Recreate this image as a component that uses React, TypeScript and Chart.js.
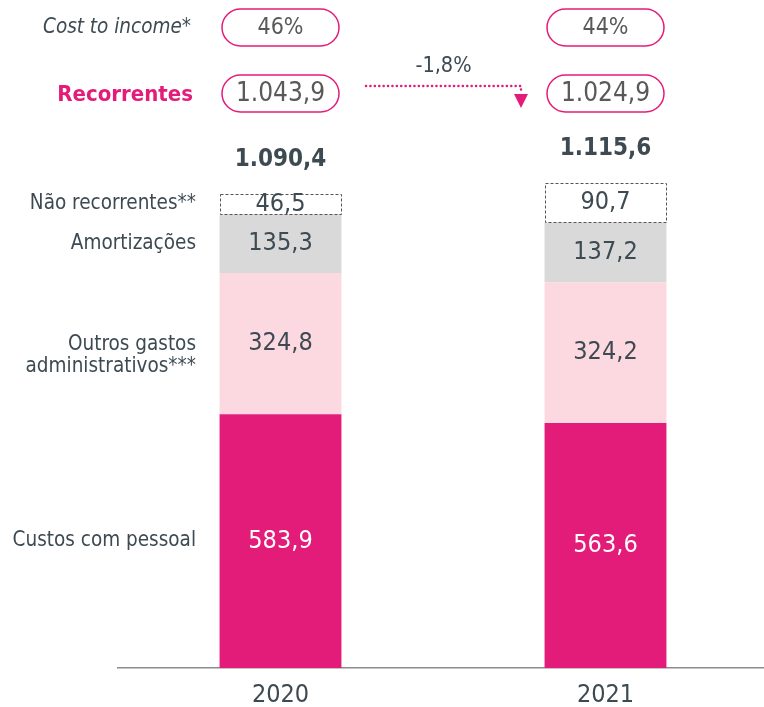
import React, { useEffect, useRef } from "react";
import { Chart, registerables } from "chart.js";

Chart.register(...registerables);

const years = ["2020", "2021"];
const custosPessoal = [583.9, 563.6];
const outrosGastos = [324.8, 324.2];
const amortizacoes = [135.3, 137.2];
const naoRecorrentes = [46.5, 90.7];
const totalLabels = ["1.090,4", "1.115,6"];
const recorrentesLabels = ["1.043,9", "1.024,9"];
const costToIncomeLabels = ["46%", "44%"];
const variationLabel = "-1,8%";
const seriesNames: (string | string[])[] = [
  "Custos com pessoal",
  ["Outros gastos", "administrativos***"],
  "Amortizações",
  "Não recorrentes**",
];

const FONT = "'DejaVu Sans Condensed', 'DejaVu Sans', sans-serif";
const DARK = "#3d4a52";
const MAGENTA = "#E31C79";
const fmt = (v: number) => v.toFixed(1).replace(".", ",");

function roundRect(ctx: CanvasRenderingContext2D, x: number, y: number, w: number, h: number, r: number) {
  ctx.beginPath();
  ctx.moveTo(x + r, y);
  ctx.lineTo(x + w - r, y);
  ctx.arc(x + w - r, y + r, r, -Math.PI / 2, Math.PI / 2);
  ctx.lineTo(x + r, y + h);
  ctx.arc(x + r, y + r, r, Math.PI / 2, (3 * Math.PI) / 2);
  ctx.closePath();
}

const overlayPlugin = {
  id: "overlay",
  afterDatasetsDraw(chart: any) {
    const ctx: CanvasRenderingContext2D = chart.ctx;
    ctx.save();
    const metas = [0, 1, 2, 3].map((i) => chart.getDatasetMeta(i));

    // dashed box for "não recorrentes"
    metas[3].data.forEach((el: any) => {
      const p = el.getProps(["x", "y", "base", "width"], true);
      ctx.save();
      ctx.setLineDash([3, 2]);
      ctx.strokeStyle = "#555";
      ctx.lineWidth = 1;
      ctx.strokeRect(Math.round(p.x - p.width / 2) + 0.5, Math.round(p.y) + 0.5, Math.round(p.width) - 1, Math.round(p.base - p.y));
      ctx.restore();
    });

    // value labels
    ctx.textAlign = "center";
    ctx.textBaseline = "middle";
    metas.forEach((meta: any, di: number) => {
      const ds = chart.data.datasets[di];
      meta.data.forEach((el: any, i: number) => {
        const p = el.getProps(["x", "y", "base"], true);
        ctx.font = `25px ${FONT}`;
        ctx.fillStyle = di === 0 ? "#ffffff" : DARK;
        ctx.fillText(fmt(ds.data[i]), p.x, (p.y + p.base) / 2);
      });
    });

    // totals
    metas[3].data.forEach((el: any, i: number) => {
      const p = el.getProps(["x", "y"], true);
      ctx.font = `bold 24px ${FONT}`;
      ctx.fillStyle = DARK;
      ctx.fillText(totalLabels[i], p.x, p.y - 34);
    });

    // left category labels (aligned with 2020 bar segments)
    ctx.textAlign = "right";
    ctx.font = `20.5px ${FONT}`;
    ctx.fillStyle = DARK;
    const lx = 196;
    metas.forEach((meta: any, di: number) => {
      const p = meta.data[0].getProps(["y", "base"], true);
      const cy = (p.y + p.base) / 2;
      const name = seriesNames[di];
      if (Array.isArray(name)) {
        name.forEach((ln, k) => ctx.fillText(ln, lx, cy + k * 22 + 1));
      } else {
        ctx.fillText(name, lx, cy);
      }
    });

    // top rows: pills
    const xs = metas[0].data.map((el: any) => el.getProps(["x"], true).x);
    const pillW = 117;
    const pillH = 37;
    const rows = [
      { cy: 27.5, labels: costToIncomeLabels, size: 23 },
      { cy: 93.5, labels: recorrentesLabels, size: 26 },
    ];
    rows.forEach((row) => {
      xs.forEach((x: number, i: number) => {
        ctx.strokeStyle = MAGENTA;
        ctx.lineWidth = 1.5;
        roundRect(ctx, x - pillW / 2, row.cy - pillH / 2, pillW, pillH, pillH / 2);
        ctx.stroke();
        ctx.font = `${row.size}px ${FONT}`;
        ctx.fillStyle = "#595959";
        ctx.textAlign = "center";
        ctx.fillText(row.labels[i], x, row.cy + 1);
      });
    });

    // row titles
    ctx.textAlign = "right";
    ctx.font = `italic 20.5px ${FONT}`;
    ctx.fillStyle = DARK;
    ctx.fillText("Cost to income*", 191, 28);
    ctx.font = `bold 22px ${FONT}`;
    ctx.fillStyle = MAGENTA;
    ctx.fillText("Recorrentes", 193, 95);

    // arrow
    const ax0 = xs[0] + pillW / 2 + 27;
    const ax1 = xs[1] - pillW / 2 - 26;
    const ay = 86;
    ctx.save();
    ctx.strokeStyle = MAGENTA;
    ctx.lineWidth = 2.5;
    ctx.lineCap = "round";
    ctx.setLineDash([0.1, 4.3]);
    ctx.beginPath();
    ctx.moveTo(ax0, ay);
    ctx.lineTo(ax1, ay);
    ctx.lineTo(ax1, ay + 6);
    ctx.stroke();
    ctx.restore();
    ctx.fillStyle = MAGENTA;
    ctx.beginPath();
    ctx.moveTo(ax1 - 7, ay + 8);
    ctx.lineTo(ax1 + 7, ay + 8);
    ctx.lineTo(ax1, ay + 22);
    ctx.closePath();
    ctx.fill();

    ctx.textAlign = "center";
    ctx.font = `21.5px ${FONT}`;
    ctx.fillStyle = DARK;
    ctx.fillText(variationLabel, (ax0 + ax1) / 2, 66);

    ctx.restore();
  },
};

export default function App() {
  const ref = useRef<HTMLCanvasElement | null>(null);
  useEffect(() => {
    if (!ref.current) return;
    const common = { barPercentage: 0.75, categoryPercentage: 0.5, borderWidth: 0 };
    const chart = new Chart(ref.current, {
      type: "bar",
      data: {
        labels: years,
        datasets: [
          { label: "Custos com pessoal", data: custosPessoal, backgroundColor: MAGENTA, ...common },
          { label: "Outros gastos administrativos", data: outrosGastos, backgroundColor: "#FCD9E1", ...common },
          { label: "Amortizações", data: amortizacoes, backgroundColor: "#D9D9D9", ...common },
          { label: "Não recorrentes", data: naoRecorrentes, backgroundColor: "#ffffff", ...common },
        ],
      },
      options: {
        animation: false,
        responsive: false,
        devicePixelRatio: 1,
        layout: { padding: { left: 118, right: 0, top: 0, bottom: 0 } },
        plugins: { legend: { display: false }, tooltip: { enabled: false } },
        scales: {
          x: {
            stacked: true,
            grid: { display: false, drawTicks: false },
            border: { display: true, color: "#8c8c8c", width: 1.5 },
            ticks: { color: DARK, font: { size: 25, family: FONT }, padding: 12 },
          },
          y: { stacked: true, display: false, min: 0, max: 1537 },
        },
      },
      plugins: [overlayPlugin],
    } as any);
    return () => chart.destroy();
  }, []);
  return (
    <div style={{ position: "absolute", left: 0, top: 0, width: 764, height: 707, overflow: "hidden", background: "#fff" }}>
      <canvas ref={ref} width={768} height={722} />
    </div>
  );
}
